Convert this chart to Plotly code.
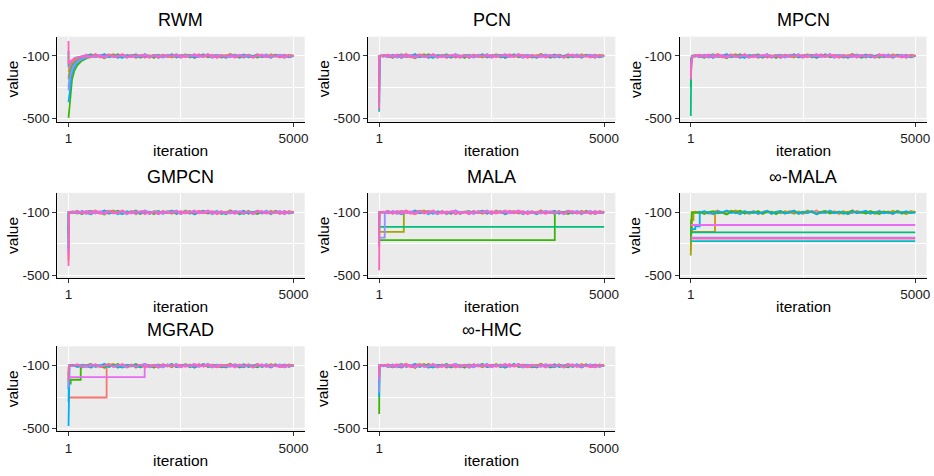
import plotly.graph_objects as go

# Figure size in pixels
W, H = 934, 476

PANEL_NAMES = ["RWM", "PCN", "MPCN", "GMPCN", "MALA", "∞-MALA", "MGRAD", "∞-HMC"]

# ggplot2 default hue palette for ten chains
CHAIN_COLORS = ["#F8766D", "#D89000", "#A3A500", "#39B600", "#00BF7D",
                "#00BFC4", "#00B0F6", "#9590FF", "#E76BF3", "#FF62BC"]

X_TICKS = [1, 5000]
Y_TICKS = [-500, -100]

# Thinned iterations of the stationary part of every chain
STATIONARY_ITER = list(range(100, 5001, 100))

# Log-posterior values of each chain once it has reached equilibrium
CHAIN_1 = [-97, -106, -93, -110, -99, -88, -104, -112, -95, -101, -91, -108, -100, -94, -113, -98, -90, -105, -102, -96,
           -109, -92, -103, -99, -111, -94, -100, -89, -107, -97, -104, -93, -110, -101, -96, -106, -91, -99, -108, -95,
           -102, -90, -105, -98, -112, -94, -100, -107, -93, -101]
CHAIN_2 = [-102, -94, -109, -97, -91, -105, -100, -113, -96, -89, -104, -99, -110, -93, -101, -107, -95, -111, -98, -92,
           -106, -100, -90, -108, -97, -103, -94, -112, -99, -105, -91, -102, -109, -96, -100, -88, -107, -98, -104, -93,
           -111, -97, -101, -95, -106, -92, -103, -110, -99, -96]
CHAIN_3 = [-99, -108, -95, -101, -112, -93, -104, -97, -90, -106, -100, -94, -109, -102, -96, -111, -91, -103, -98, -107,
           -93, -100, -110, -95, -104, -89, -101, -106, -97, -92, -108, -99, -103, -94, -112, -100, -96, -105, -91, -109,
           -98, -102, -95, -107, -90, -104, -99, -111, -94, -100]
CHAIN_4 = [-104, -96, -111, -99, -93, -107, -101, -114, -95, -103, -90, -108, -98, -105, -92, -110, -100, -97, -113, -94,
           -106, -102, -91, -109, -99, -104, -95, -112, -98, -93, -107, -101, -96, -110, -103, -90, -105, -99, -108, -94,
           -102, -111, -97, -100, -106, -92, -109, -98, -104, -101]
CHAIN_5 = [-95, -103, -110, -98, -91, -106, -100, -93, -109, -97, -104, -112, -96, -101, -89, -107, -99, -105, -94, -111,
           -98, -102, -92, -108, -100, -95, -110, -97, -103, -90, -106, -101, -94, -109, -99, -104, -96, -112, -100, -93,
           -107, -98, -105, -91, -110, -97, -102, -95, -108, -99]
CHAIN_6 = [-101, -92, -107, -98, -112, -95, -103, -90, -106, -100, -96, -110, -94, -104, -99, -108, -91, -102, -97, -111,
           -93, -105, -100, -89, -109, -96, -101, -107, -94, -103, -98, -112, -95, -100, -106, -92, -104, -99, -110, -96,
           -102, -91, -108, -97, -105, -100, -93, -109, -98, -103]
CHAIN_7 = [-98, -107, -94, -102, -111, -96, -100, -89, -105, -99, -113, -93, -104, -97, -108, -101, -92, -110, -98, -95,
           -106, -100, -91, -109, -96, -103, -94, -112, -99, -104, -90, -107, -97, -101, -111, -95, -103, -98, -92, -108,
           -100, -94, -106, -99, -110, -96, -102, -93, -105, -100]
CHAIN_8 = [-103, -95, -100, -110, -92, -106, -98, -104, -91, -108, -97, -101, -112, -94, -105, -99, -89, -107, -100, -96,
           -111, -93, -103, -98, -109, -95, -102, -90, -106, -100, -97, -110, -94, -104, -99, -108, -92, -101, -105, -96,
           -112, -98, -103, -91, -107, -100, -94, -109, -97, -102]
CHAIN_9 = [-96, -105, -99, -91, -108, -102, -94, -111, -97, -100, -106, -90, -103, -109, -95, -101, -93, -107, -98, -112,
           -96, -104, -100, -92, -110, -97, -103, -94, -106, -99, -89, -108, -101, -95, -105, -98, -111, -93, -102, -96,
           -107, -100, -91, -109, -97, -104, -95, -110, -99, -101]
CHAIN_10 = [-100, -93, -108, -97, -104, -91, -110, -99, -95, -106, -102, -89, -107, -98, -103, -94, -112, -100, -96, -109,
            -92, -105, -99, -101, -94, -108, -97, -103, -90, -106, -100, -95, -111, -98, -102, -93, -107, -99, -104, -96,
            -109, -91, -101, -105, -97, -100, -110, -94, -103, -98]
STATIONARY = [CHAIN_1, CHAIN_2, CHAIN_3, CHAIN_4, CHAIN_5, CHAIN_6, CHAIN_7, CHAIN_8, CHAIN_9, CHAIN_10]

# Burn-in of each chain per sampler: (iteration, value) pairs, chains in palette order
RWM_BURNIN = [
    [(1, -235), (40, -175), (100, -140), (200, -118), (350, -106), (500, -101)],
    [(1, -200), (50, -150), (120, -125), (250, -110), (400, -102)],
    [(1, -250), (40, -185), (100, -150), (200, -125), (350, -110), (500, -103)],
    [(1, -495), (20, -430), (45, -330), (80, -250), (130, -195), (200, -158), (300, -130), (420, -113), (560, -104), (700, -100)],
    [(1, -70), (3, -170), (60, -135), (150, -112), (300, -103)],
    [(1, -300), (40, -210), (100, -160), (200, -130), (350, -110), (500, -102)],
    [(1, -395), (30, -300), (70, -220), (130, -170), (220, -135), (350, -114), (500, -104)],
    [(1, -320), (40, -230), (100, -170), (200, -135), (350, -112), (500, -103)],
    [(1, -180), (50, -140), (150, -118), (300, -105)],
    [(1, -5), (3, -150), (40, -135), (120, -118), (250, -106), (400, -101)],
]
PCN_BURNIN = [
    [(1, -210), (8, -100)], [(1, -300), (6, -100)], [(1, -260), (10, -100)], [(1, -330), (7, -100)],
    [(1, -400), (9, -100)], [(1, -455), (12, -100)], [(1, -240), (5, -100)], [(1, -190), (8, -100)],
    [(1, -350), (10, -100)], [(1, -440), (6, -100)],
]
MPCN_BURNIN = [
    [(1, -180), (10, -120), (30, -100)],
    [(1, -220), (12, -130), (35, -100)],
    [(1, -160), (20, -105)],
    [(1, -300), (10, -150), (40, -100)],
    [(1, -483), (2, -270), (10, -150), (40, -100)],
    [(1, -200), (15, -115), (35, -100)],
    [(1, -170), (20, -110), (40, -100)],
    [(1, -240), (15, -140), (45, -100)],
    [(1, -210), (12, -140), (40, -102)],
    [(1, -250), (4, -165), (20, -125), (60, -100)],
]
GMPCN_BURNIN = [
    [(1, -240), (6, -100)], [(1, -408), (2, -300), (8, -100)], [(1, -200), (5, -100)], [(1, -270), (6, -100)],
    [(1, -220), (5, -100)], [(1, -329), (7, -100)], [(1, -350), (6, -100)], [(1, -183), (5, -100)],
    [(1, -376), (8, -100)], [(1, -442), (10, -100)],
]
MALA_BURNIN = [
    [(1, -240), (6, -100)],
    [(1, -210), (5, -100)],
    [(1, -225), (549, -225), (550, -100)],
    [(1, -277), (3904, -277), (3905, -100)],
    [(1, -193), (5000, -193)],
    [(1, -300), (6, -100)],
    [(1, -180), (5, -100)],
    [(1, -262), (125, -262), (126, -100)],
    [(1, -320), (8, -100)],
    [(1, -470), (6, -100)],
]
INF_MALA_BURNIN = [
    [(1, -300), (20, -160), (40, -100)],
    [(1, -340), (15, -160), (40, -225), (540, -225), (541, -100)],
    [(1, -376), (8, -150), (60, -150), (61, -100)],
    [(1, -280), (20, -100)],
    [(1, -228), (5000, -228)],
    [(1, -284), (5000, -284)],
    [(1, -207), (100, -207), (100, -190), (200, -190), (200, -100)],
    [(1, -262), (5000, -262)],
    [(1, -181), (5000, -181)],
    [(1, -267), (5000, -267)],
]
MGRAD_BURNIN = [
    [(1, -303), (848, -303), (849, -100)],
    [(1, -200), (10, -100)],
    [(1, -160), (8, -100)],
    [(1, -215), (50, -215), (50, -190), (273, -190), (273, -100)],
    [(1, -250), (10, -100)],
    [(1, -330), (15, -100)],
    [(1, -485), (25, -100)],
    [(1, -240), (12, -100)],
    [(1, -173), (1694, -173), (1695, -100)],
    [(1, -200), (10, -100)],
]
INF_HMC_BURNIN = [
    [(1, -180), (4, -100)], [(1, -200), (5, -100)], [(1, -160), (4, -100)], [(1, -408), (3, -250), (6, -100)],
    [(1, -220), (5, -100)], [(1, -250), (5, -100)], [(1, -300), (5, -100)], [(1, -270), (6, -100)],
    [(1, -190), (4, -100)], [(1, -170), (5, -100)],
]
BURNINS = [RWM_BURNIN, PCN_BURNIN, MPCN_BURNIN, GMPCN_BURNIN,
           MALA_BURNIN, INF_MALA_BURNIN, MGRAD_BURNIN, INF_HMC_BURNIN]

# Panel boxes in pixels: (left, right) per column, (top, bottom) per row
COLS = [(57.5, 306.0), (369.5, 618.0), (682.5, 930.5)]
ROWS = [(37.0, 123.0), (195.0, 281.0), (350.0, 436.0)]
X_RANGE = [-249, 5250]
Y_RANGE = [-519, 23]

FONT = "Liberation Sans, Arial, sans-serif"

fig = go.Figure()
annotations = []
layout_axes = {}

for i, (name, burnin) in enumerate(zip(PANEL_NAMES, BURNINS)):
    r, c = divmod(i, 3)
    left, right = COLS[c]
    top, bottom = ROWS[r]
    sfx = "" if i == 0 else str(i + 1)
    xref, yref = "x" + sfx, "y" + sfx

    for k, pts in enumerate(burnin):
        xs = [p[0] for p in pts]
        ys = [p[1] for p in pts]
        last = xs[-1]
        for it, v in zip(STATIONARY_ITER, STATIONARY[k]):
            if it > last:
                xs.append(it)
                ys.append(v)
        fig.add_trace(go.Scatter(
            x=xs, y=ys, mode="lines", xaxis=xref, yaxis=yref,
            line=dict(color=CHAIN_COLORS[k], width=1.8),
            showlegend=False, hoverinfo="skip"))

    common = dict(
        showline=True, linecolor="black", linewidth=1.1, mirror=False,
        ticks="outside", ticklen=4, tickwidth=1, tickcolor="#333333",
        showgrid=True, gridcolor="white", gridwidth=1.2, zeroline=False,
        tickfont=dict(family=FONT, size=13.5, color="#1a1a1a"), fixedrange=True,
    )
    layout_axes["xaxis" + sfx] = dict(
        common, domain=[left / W, right / W], range=X_RANGE, anchor=yref,
        tickmode="array", tickvals=X_TICKS, ticktext=[str(v) for v in X_TICKS],
        minor=dict(tickvals=[2500.5], showgrid=True, gridcolor="white", gridwidth=0.6, ticks=""),
    )
    layout_axes["yaxis" + sfx] = dict(
        common, domain=[1 - bottom / H, 1 - top / H], range=Y_RANGE, anchor=xref,
        tickmode="array", tickvals=Y_TICKS, ticktext=[str(v) for v in Y_TICKS],
        minor=dict(tickvals=[-300], showgrid=True, gridcolor="white", gridwidth=0.6, ticks=""),
    )

    cx = (left + right) / 2
    annotations.append(dict(
        text=name, x=cx / W, y=1 - (top - 16.5) / H, xref="paper", yref="paper",
        xanchor="center", yanchor="middle", showarrow=False,
        font=dict(family=FONT, size=18, color="black")))
    annotations.append(dict(
        text="iteration", x=cx / W, y=1 - (bottom + 29) / H, xref="paper", yref="paper",
        xanchor="center", yanchor="middle", showarrow=False,
        font=dict(family=FONT, size=15.5, color="black")))
    annotations.append(dict(
        text="value", x=(left - 45) / W, y=1 - ((top + bottom) / 2) / H, xref="paper", yref="paper",
        xanchor="center", yanchor="middle", textangle=-90, showarrow=False,
        font=dict(family=FONT, size=15.5, color="black")))

fig.update_layout(
    width=W, height=H, margin=dict(l=0, r=0, t=0, b=0),
    paper_bgcolor="white", plot_bgcolor="#EBEBEB",
    annotations=annotations, **layout_axes)

fig.write_html("out.html")
